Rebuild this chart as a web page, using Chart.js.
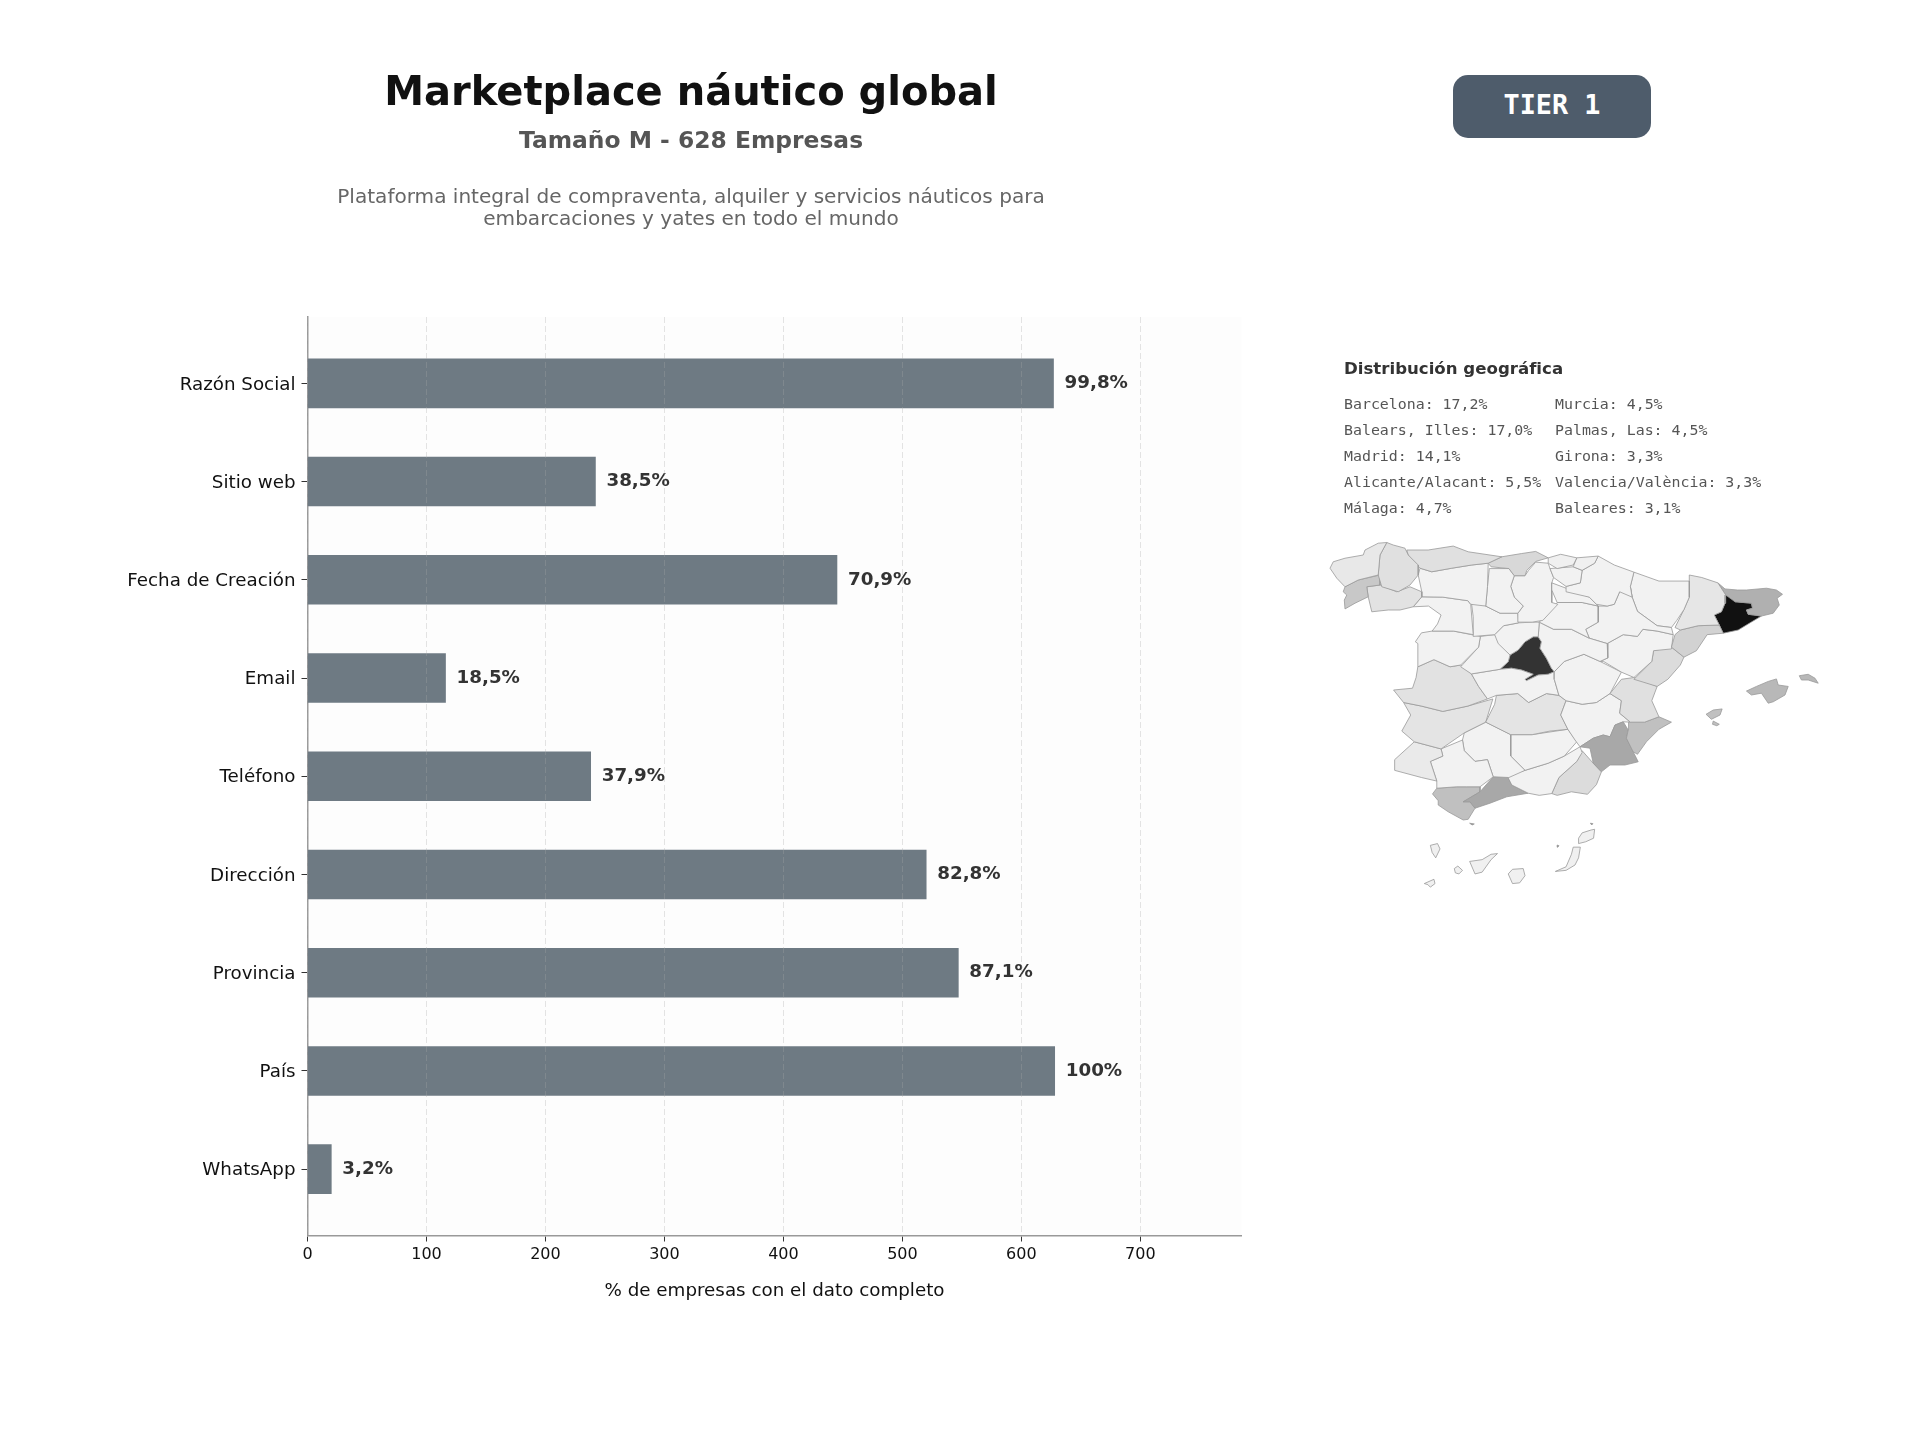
<!DOCTYPE html>
<html lang="es">
<head>
<meta charset="utf-8">
<title>Marketplace náutico global</title>
<script src="https://cdn.jsdelivr.net/npm/chart.js@4"></script>
<style>
  html, body { margin: 0; padding: 0; background: #fff; width: 1920px; height: 1440px; overflow: hidden; font-family: "DejaVu Sans", sans-serif; }
  .abs { position: absolute; white-space: nowrap; }
  .center { transform: translate(-50%, -50%); text-align: center; }
  .mono { font-family: "DejaVu Sans Mono", monospace; font-size: 14.9px; color: #555; transform: translateY(-50%); }
  canvas { position: absolute; }
  #barChart { left: 0; top: 0; }
  #mapChart { left: 1300px; top: 340px; }
  #badge { left: 1453px; top: 75px; width: 198px; height: 63px; background: #4e5c6b; border-radius: 15px; color: #fff; font: bold 26.8px "DejaVu Sans Mono", monospace; line-height: 60px; text-align: center; }
</style>
</head>
<body>
<canvas id="barChart" width="1920" height="1440"></canvas>
<canvas id="mapChart" width="560" height="560"></canvas>

<div class="abs center" style="left:691px;top:91px;font-weight:bold;font-size:40px;color:#111">Marketplace náutico global</div>
<div class="abs center" style="left:691px;top:140px;font-weight:bold;font-size:23.4px;color:#555">Tamaño M - 628 Empresas</div>
<div class="abs center" style="left:691px;top:196px;font-size:20.07px;color:#666">Plataforma integral de compraventa, alquiler y servicios náuticos para</div>
<div class="abs center" style="left:691px;top:218px;font-size:20.07px;color:#666">embarcaciones y yates en todo el mundo</div>
<div class="abs" id="badge">TIER 1</div>

<div class="abs" style="left:1344px;top:367.5px;transform:translateY(-50%);font-weight:bold;font-size:16.6px;color:#333">Distribución geográfica</div>
<div id="geoList"></div>

<script>
// bar chart data
const categories = ['Razón Social', 'Sitio web', 'Fecha de Creación', 'Email', 'Teléfono', 'Dirección', 'Provincia', 'País', 'WhatsApp'];
const companies = [627, 242, 445, 116, 238, 520, 547, 628, 20];
const percentLabels = ['99,8%', '38,5%', '70,9%', '18,5%', '37,9%', '82,8%', '87,1%', '100%', '3,2%'];
const xTickValues = [0, 100, 200, 300, 400, 500, 600, 700];

// geographic list
const geoLeft = ['Barcelona: 17,2%', 'Balears, Illes: 17,0%', 'Madrid: 14,1%', 'Alicante/Alacant: 5,5%', 'Málaga: 4,7%'];
const geoRight = ['Murcia: 4,5%', 'Palmas, Las: 4,5%', 'Girona: 3,3%', 'Valencia/València: 3,3%', 'Baleares: 3,1%'];

// map outlines in map units (0-1568 on both axes)
const provinceNames = ['A Coruña', 'Lugo', 'Pontevedra', 'Ourense', 'Asturias', 'Cantabria', 'Bizkaia', 'Gipuzkoa', 'Álava', 'Navarra', 'La Rioja', 'León', 'Palencia', 'Burgos', 'Zamora', 'Valladolid', 'Soria', 'Segovia', 'Salamanca', 'Ávila', 'Guadalajara', 'Zaragoza', 'Huesca', 'Lleida', 'Girona', 'Tarragona', 'Teruel', 'Castellón', 'Valencia', 'Alicante', 'Murcia', 'Cuenca', 'Toledo', 'Albacete', 'Ciudad Real', 'Cáceres', 'Badajoz', 'Huelva', 'Sevilla', 'Córdoba', 'Jaén', 'Granada', 'Almería', 'Málaga', 'Cádiz', 'Madrid', 'Barcelona', 'Mallorca', 'Menorca', 'Ibiza', 'Formentera', 'Lanzarote', 'Fuerteventura', 'Gran Canaria', 'Tenerife', 'La Gomera', 'La Palma', 'El Hierro', 'Ceuta', 'Melilla', 'La Graciosa'];
const provinceColors = ['#e8e8e8', '#e0e0e0', '#c8c8c8', '#e2e2e2', '#e0e0e0', '#d8d8d8', '#f0f0f0', '#f0f0f0', '#f2f2f2', '#f2f2f2', '#f2f2f2', '#f2f2f2', '#f2f2f2', '#f2f2f2', '#f2f2f2', '#f2f2f2', '#f2f2f2', '#f2f2f2', '#f2f2f2', '#f2f2f2', '#f2f2f2', '#f2f2f2', '#f2f2f2', '#e6e6e6', '#b0b0b0', '#d2d2d2', '#f2f2f2', '#dcdcdc', '#e0e0e0', '#c0c0c0', '#a8a8a8', '#f2f2f2', '#f2f2f2', '#f2f2f2', '#e4e4e4', '#e2e2e2', '#e4e4e4', '#eaeaea', '#f2f2f2', '#f2f2f2', '#f2f2f2', '#f2f2f2', '#dcdcdc', '#a8a8a8', '#c0c0c0', '#333333', '#111111', '#b8b8b8', '#b8b8b8', '#c0c0c0', '#c0c0c0', '#f0f0f0', '#f0f0f0', '#f0f0f0', '#f0f0f0', '#f0f0f0', '#f0f0f0', '#f0f0f0', '#888888', '#888888', '#888888'];
const provinceShapes = [
  [[84,639],[93,621],[126,611],[177,602],[182,588],[219,569],[243,567],[224,602],[219,658],[163,672],[126,691],[103,667]],
  [[243,567],[261,574],[294,583],[303,602],[331,630],[331,658],[308,686],[275,705],[229,691],[219,658],[224,602]],
  [[126,691],[163,672],[224,658],[224,686],[187,691],[191,719],[154,737],[126,753],[124,728],[131,714],[121,705]],
  [[187,691],[224,686],[271,705],[308,691],[341,705],[341,719],[317,747],[280,756],[247,756],[201,761],[191,719]],
  [[299,588],[359,588],[429,577],[471,593],[565,607],[527,625],[481,630],[425,639],[369,649],[336,639],[303,602]],
  [[565,607],[620,598],[660,592],[695,610],[660,620],[635,645],[630,660],[600,660],[585,640],[535,635],[527,625]],
  [[695,610],[730,600],[775,610],[765,630],[720,640],[695,625]],
  [[775,610],[835,605],[825,625],[790,645],[765,635]],
  [[700,640],[765,635],[790,645],[785,680],[745,690],[710,665]],
  [[835,605],[880,630],[935,650],[925,690],[930,720],[895,705],[880,740],[860,745],[830,740],[810,720],[745,705],[745,690],[785,680],[790,645],[825,625]],
  [[705,680],[745,695],[810,720],[835,745],[790,735],[720,735],[705,700]],
  [[336,639],[369,649],[425,639],[481,630],[527,625],[525,690],[520,745],[478,740],[470,730],[400,720],[341,719],[341,705],[331,658]],
  [[530,640],[585,640],[600,660],[590,690],[600,720],[625,745],[610,765],[560,765],[520,745],[525,690]],
  [[630,660],[640,645],[660,622],[695,625],[700,640],[710,665],[705,680],[705,735],[722,740],[680,785],[650,790],[610,790],[610,765],[625,745],[600,720],[590,690],[600,660]],
  [[317,747],[341,719],[400,720],[470,730],[478,740],[485,825],[430,815],[370,815],[385,795],[395,770],[360,745]],
  [[478,720],[520,745],[560,765],[610,765],[612,792],[570,800],[545,825],[485,830],[485,775]],
  [[720,735],[790,735],[835,745],[835,790],[800,810],[810,835],[760,810],[710,810],[670,790]],
  [[612,792],[650,790],[670,790],[667,831],[653,831],[630,845],[611,868],[588,882],[555,850],[545,825],[570,800]],
  [[340,820],[370,815],[430,815],[505,830],[500,860],[450,910],[420,915],[375,895],[330,915],[330,850],[323,845]],
  [[505,830],[545,825],[588,882],[583,901],[560,922],[480,935],[450,915],[500,860]],
  [[670,790],[710,810],[760,810],[810,835],[860,850],[862,890],[840,900],[795,880],[740,900],[712,929],[704,919],[690,891],[672,863],[676,845],[667,831]],
  [[880,740],[895,705],[925,690],[930,720],[945,760],[1000,800],[1040,805],[1045,825],[1000,815],[960,810],[945,830],[905,825],[860,850],[810,835],[800,810],[835,790],[835,745],[860,745]],
  [[935,650],[1005,675],[1090,675],[1090,720],[1075,755],[1055,785],[1040,805],[1000,800],[945,760],[930,720],[925,690]],
  [[1090,658],[1125,665],[1170,680],[1192,714],[1190,737],[1180,761],[1160,770],[1174,798],[1115,800],[1065,812],[1050,805],[1075,755],[1090,720]],
  [[1170,680],[1190,697],[1225,700],[1250,700],[1306,695],[1334,700],[1351,712],[1336,723],[1342,742],[1325,765],[1292,773],[1255,768],[1250,756],[1267,751],[1264,737],[1218,733],[1192,714]],
  [[1174,798],[1185,821],[1140,825],[1110,870],[1075,888],[1040,860],[1050,825],[1065,812],[1115,800]],
  [[860,850],[905,825],[945,830],[960,810],[1000,815],[1045,825],[1040,865],[990,870],[985,900],[935,945],[900,930],[850,900],[840,900],[862,890]],
  [[1040,860],[1075,888],[1065,910],[1030,950],[1000,970],[935,950],[985,900],[990,870]],
  [[935,945],[1000,970],[985,1010],[1005,1055],[965,1070],[925,1070],[895,1045],[900,1010],[868,990],[900,950]],
  [[1005,1055],[1040,1070],[1005,1090],[970,1125],[945,1160],[933,1153],[914,1115],[919,1092],[920,1070],[965,1070]],
  [[868,1111],[882,1078],[905,1069],[919,1092],[914,1115],[933,1153],[947,1181],[910,1190],[868,1190],[844,1209],[821,1185],[812,1143],[784,1139],[821,1115],[849,1106]],
  [[740,900],[795,880],[840,900],[900,930],[868,990],[830,1015],[790,1020],[745,1010],[725,995],[712,950],[712,929]],
  [[480,935],[560,922],[592,919],[620,924],[653,936],[630,950],[634,954],[667,938],[695,936],[712,929],[712,950],[725,995],[690,990],[640,1015],[610,990],[550,995],[525,1005],[500,970]],
  [[745,1010],[790,1020],[830,1015],[868,990],[900,1010],[895,1045],[925,1070],[905,1069],[882,1078],[868,1111],[849,1106],[821,1115],[784,1139],[770,1120],[750,1090],[730,1050]],
  [[550,995],[610,990],[640,1015],[690,990],[725,995],[745,1010],[730,1050],[750,1090],[700,1095],[650,1105],[590,1105],[520,1070],[545,1020]],
  [[330,915],[375,895],[420,915],[450,910],[480,935],[500,970],[525,1005],[470,1025],[400,1040],[340,1025],[290,1015],[262,980],[315,975],[325,945]],
  [[290,1015],[340,1025],[400,1040],[470,1025],[540,1005],[520,1070],[460,1100],[395,1145],[320,1125],[285,1095],[310,1050]],
  [[320,1125],[395,1145],[400,1165],[365,1180],[383,1235],[340,1225],[265,1205],[265,1175]],
  [[395,1145],[455,1120],[460,1150],[490,1180],[525,1175],[541,1223],[504,1251],[467,1251],[439,1251],[383,1255],[383,1235],[365,1180],[400,1165]],
  [[460,1100],[520,1070],[590,1105],[590,1165],[630,1205],[585,1225],[541,1223],[525,1175],[490,1180],[460,1150],[455,1120]],
  [[590,1105],[650,1105],[750,1090],[775,1125],[740,1165],[695,1185],[630,1205],[590,1165]],
  [[579,1218],[630,1205],[695,1185],[740,1165],[784,1139],[790,1155],[775,1180],[725,1225],[705,1270],[670,1275],[639,1269],[593,1246]],
  [[790,1150],[821,1185],[844,1209],[830,1245],[805,1272],[760,1265],[720,1275],[705,1270],[725,1225],[775,1180]],
  [[457,1293],[504,1265],[541,1223],[579,1218],[593,1246],[639,1269],[579,1279],[532,1297],[490,1311],[476,1293]],
  [[371,1271],[383,1255],[439,1251],[467,1251],[504,1251],[504,1265],[457,1293],[476,1293],[490,1311],[471,1342],[457,1344],[415,1321],[387,1302],[387,1290]],
  [[667,831],[676,845],[672,863],[690,891],[704,919],[712,929],[695,936],[667,938],[634,954],[630,950],[653,936],[620,924],[592,919],[560,922],[583,901],[588,882],[611,868],[630,845],[653,831]],
  [[1192,714],[1222,714],[1218,733],[1264,737],[1267,751],[1250,756],[1255,768],[1292,773],[1265,789],[1227,812],[1185,821],[1174,798],[1160,770],[1180,761],[1190,737]],
  [[1250,983],[1278,970],[1311,956],[1334,949],[1339,966],[1367,970],[1358,994],[1325,1013],[1311,1017],[1292,989],[1264,994]],
  [[1398,940],[1423,936],[1442,947],[1451,961],[1423,952],[1404,952]],
  [[1137,1048],[1157,1036],[1182,1033],[1176,1050],[1152,1062]],
  [[1157,1067],[1174,1076],[1167,1080],[1155,1076]],
  [[780,1395],[790,1380],[815,1372],[825,1370],[822,1395],[800,1405],[780,1410]],
  [[715,1488],[745,1475],[760,1440],[765,1420],[785,1420],[780,1450],[770,1470],[745,1485]],
  [[583,1495],[595,1482],[625,1480],[630,1500],[615,1520],[595,1522]],
  [[475,1460],[510,1455],[535,1440],[553,1438],[535,1455],[510,1490],[490,1495]],
  [[432,1480],[442,1473],[455,1485],[445,1495],[435,1492]],
  [[365,1415],[385,1410],[392,1425],[380,1450],[370,1435]],
  [[348,1522],[375,1510],[378,1522],[365,1532],[358,1525]],
  [[475,1353],[488,1355],[482,1358]],
  [[720,1414],[725,1416],[722,1420]],
  [[813,1353],[820,1354],[817,1358]]
];

// list next to the map
const geoListEl = document.getElementById('geoList');
const geoRowTops = [404, 429.5, 455.5, 481.5, 508];
const addGeoColumn = function (rows, left) {
  rows.forEach((text, i) => {
    const el = document.createElement('div');
    el.className = 'abs mono';
    el.style.left = left + 'px';
    el.style.top = geoRowTops[i] + 'px';
    el.textContent = text;
    geoListEl.appendChild(el);
  });
};
addGeoColumn(geoLeft, 1344);
addGeoColumn(geoRight, 1555);

// plot background and the value next to each bar
const plotBackground = {
  id: 'plotBackground',
  beforeDraw(chart) {
    const { ctx, chartArea: a } = chart;
    ctx.save();
    ctx.fillStyle = '#fdfdfd';
    ctx.fillRect(a.left, a.top, a.right - a.left, a.bottom - a.top);
    ctx.restore();
  }
};
const barValueLabels = {
  id: 'barValueLabels',
  afterDatasetsDraw(chart) {
    const { ctx, scales } = chart;
    ctx.save();
    ctx.font = 'bold 18.3px "DejaVu Sans"';
    ctx.fillStyle = '#333';
    ctx.textBaseline = 'middle';
    percentLabels.forEach((text, i) => {
      ctx.fillText(text, scales.x.getPixelForValue(companies[i]) + 11, scales.y.getPixelForValue(i));
    });
    ctx.restore();
  }
};

new Chart(document.getElementById('barChart'), {
  type: 'bar',
  data: {
    datasets: [{
      data: companies.map((v, i) => ({ x: v, y: i })),
      backgroundColor: '#6e7a83',
      barThickness: 49
    }]
  },
  options: {
    indexAxis: 'y',
    responsive: false,
    animation: false,
    layout: { padding: { left: 127.5, top: 317, right: 678.5, bottom: 138 } },
    plugins: { legend: { display: false }, tooltip: { enabled: false } },
    scales: {
      x: {
        type: 'linear',
        min: 0,
        max: 785,
        afterBuildTicks: (scale) => { scale.ticks = xTickValues.map(v => ({ value: v })); },
        afterFit: (scale) => { scale.height = 66.5; },
        ticks: { color: '#111', font: { family: 'DejaVu Sans', size: 16 }, padding: 4, maxRotation: 0 },
        grid: { z: 1, color: 'rgba(170,170,170,0.3)', lineWidth: 1, tickColor: '#333', tickLength: 6, tickWidth: 1 },
        border: { z: 2, color: '#999', width: 1.5, dash: [6, 3] },
        title: { display: true, text: '% de empresas con el dato completo', color: '#111', font: { family: 'DejaVu Sans', size: 18.3 }, padding: 0 }
      },
      y: {
        type: 'linear',
        reverse: true,
        offset: false,
        min: -0.675,
        max: 8.675,
        afterBuildTicks: (scale) => { scale.ticks = categories.map((c, i) => ({ value: i })); },
        afterFit: (scale) => { scale.width = 180; },
        ticks: { color: '#111', font: { family: 'DejaVu Sans', size: 18.27 }, padding: 6, labelOffset: 1.5, autoSkip: false, callback: (v) => categories[v] },
        grid: { offset: false, drawOnChartArea: false, tickColor: '#333', tickLength: 6, tickWidth: 1 },
        border: { color: '#999', width: 1.5 }
      }
    }
  },
  plugins: [plotBackground, barValueLabels]
});

new Chart(document.getElementById('mapChart'), {
  type: 'scatter',
  data: {
    datasets: provinceShapes.map((shape, i) => ({
      label: provinceNames[i],
      data: shape.concat([shape[0]]).map(p => ({ x: p[0], y: p[1] })),
      showLine: true,
      fill: 'shape',
      backgroundColor: provinceColors[i],
      borderColor: '#999',
      borderWidth: 0.8,
      pointRadius: 0
    }))
  },
  options: {
    responsive: false,
    animation: false,
    plugins: { legend: { display: false }, tooltip: { enabled: false } },
    scales: {
      x: { type: 'linear', min: 0, max: 1568, display: false },
      y: { type: 'linear', min: 0, max: 1568, reverse: true, display: false }
    }
  }
});
</script>
</body>
</html>
